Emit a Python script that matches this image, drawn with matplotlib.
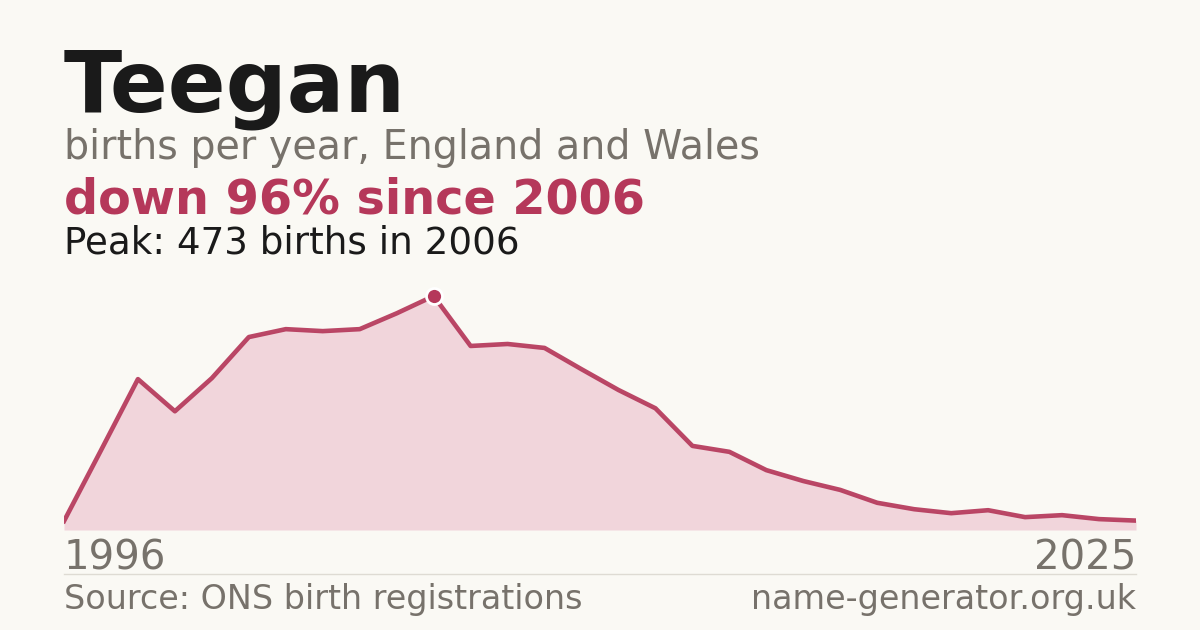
import numpy as np
import matplotlib
matplotlib.use("Agg")
import matplotlib.pyplot as plt

W, H = 1200, 630
BG = "#faf9f4"
RED = "#b5385a"
FILL = "#f1d5db"
GREY = "#77726b"
DARK = "#1a1a1a"

years = list(range(1996, 2026))
births = [18, 161, 305, 240, 307, 390, 406, 402, 406, 438,
          473, 372, 376, 368, 325, 283, 246, 170, 158, 121,
          99, 81, 55, 42, 34, 40, 26, 30, 22, 19]

peak_i = int(np.argmax(births))
peak_year, peak_val = years[peak_i], births[peak_i]
drop = round(100 * (1 - births[-1] / peak_val))


def px(x, y):
    return x / W, 1 - y / H


fig = plt.figure(figsize=(W / 100, H / 100), dpi=100, facecolor=BG)

# plot area: 64..1136 px wide, zero at y=530, peak at y=296
left, bottom = px(64, 530)
ax = fig.add_axes([left, bottom, (1136 - 64) / W, (530 - 296) / H])
ax.set_facecolor(BG)
ax.fill_between(years, births, color=FILL, lw=0)
ax.plot(years, births, color=RED, lw=3.3, alpha=0.92)
ax.plot([peak_year], [peak_val], "o", ms=11.5, mfc=RED, mec="white", mew=2,
        clip_on=False, zorder=5)
ax.set_xlim(years[0], years[-1])
ax.set_ylim(0, peak_val)
ax.axis("off")

fig.text(*px(64, 112), "Teegan", fontsize=61.5, fontweight="bold", color=DARK, va="baseline")
fig.text(*px(64, 159), "births per year, England and Wales", fontsize=28.5, color=GREY, va="baseline")
fig.text(*px(64, 214), f"down {drop}% since {peak_year}", fontsize=34.4, fontweight="bold",
         color=RED, va="baseline")
fig.text(*px(64, 253), f"Peak: {peak_val} births in {peak_year}", fontsize=26.8, color=DARK,
         va="baseline")

fig.text(*px(64, 570), str(years[0]), fontsize=29, color=GREY, va="baseline")
fig.text(*px(1136, 570), str(years[-1]), fontsize=29, color=GREY, va="baseline", ha="right")

fig.add_artist(plt.Line2D([64 / W, 1136 / W], [1 - 574 / H] * 2, color="#dedbd3", lw=1))

fig.text(*px(64, 609), "Source: ONS birth registrations", fontsize=24, color=GREY, va="baseline")
fig.text(*px(1136, 609), "name-generator.org.uk", fontsize=24, color=GREY, va="baseline", ha="right")

fig.savefig("out.png", dpi=100, facecolor=BG)
